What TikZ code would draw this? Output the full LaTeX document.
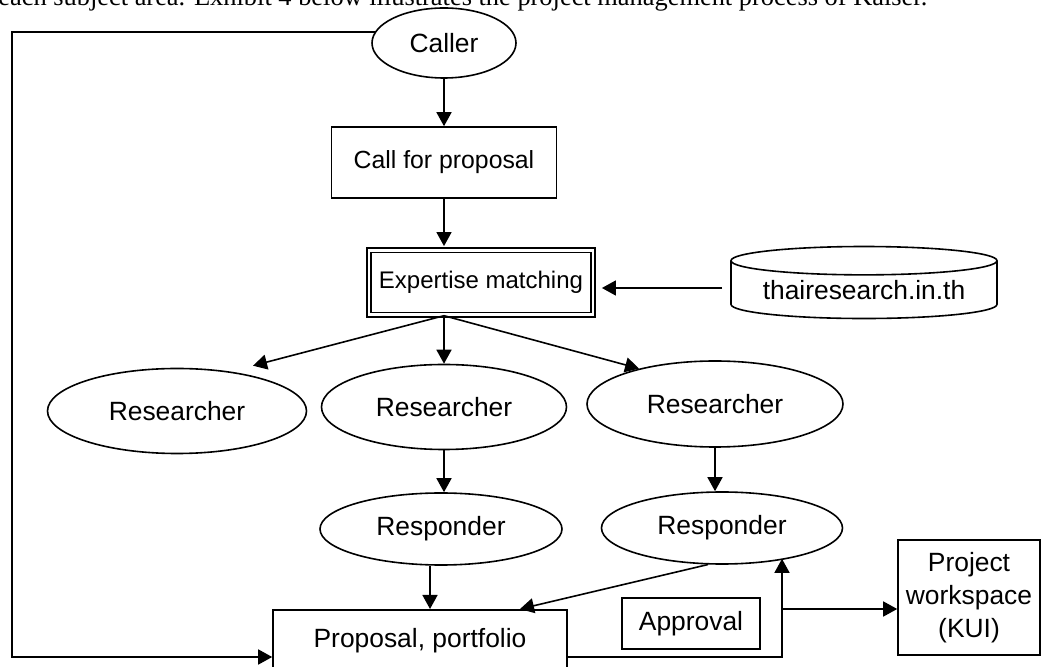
\documentclass[tikz,border=0pt]{standalone}
\usepackage{fontspec}
\setmainfont{Liberation Sans}
\newfontfamily\bodyserif{Liberation Serif}
\usetikzlibrary{shapes.geometric,arrows.meta}

\begin{document}
\begin{tikzpicture}[x=0.5pt,y=-0.5pt,
  every node/.style={font=\fontsize{13.2}{16.5}\selectfont, inner sep=0pt},
  oval/.style={ellipse, draw, line width=0.8pt},
  proc/.style={rectangle, draw, line width=0.8pt},
  dblproc/.style={rectangle, draw, double, line width=0.9pt, double distance=1.4pt},
  store/.style={cylinder, shape border rotate=90, draw, line width=0.8pt, aspect=0.14},
  flow/.style={-{Triangle[length=7pt,width=7.5pt]}, line width=0.8pt}]
  \useasboundingbox (0,0) rectangle (1055,667);

  %Define nodes
  \node[anchor=base west, font=\bodyserif\fontsize{13.2}{16}\selectfont] (intro) at (-2,6)
    {each subject area. Exhibit 4 below illustrates the project management process of Kaiser.};
  \node[oval, minimum width=72pt, minimum height=35pt]           (caller) at (444,43) {Caller};
  \node[proc, minimum width=112.5pt, minimum height=35.5pt, font=\fontsize{12.4}{15}\selectfont]
                                                                 (call) at (444,162.5) {Call for proposal};
  \node[dblproc, minimum width=112pt, minimum height=32.3pt, font=\fontsize{12}{14}\selectfont]
                                                                 (exp) at (481,282.5) {Expertise matching};
  \node[store, minimum width=133pt, minimum height=36pt]         (thai) at (864,290) {thairesearch.in.th};
  \node[oval, minimum width=129.5pt, minimum height=42.5pt]      (r1) at (177,411) {Researcher};
  \node[oval, minimum width=122.5pt, minimum height=42.5pt]      (r2) at (444,407) {Researcher};
  \node[oval, minimum width=128pt, minimum height=43pt]          (r3) at (715,404) {Researcher};
  \node[oval, minimum width=121pt, minimum height=36pt]          (resp1) at (441,529) {Responder};
  \node[oval, minimum width=120.5pt, minimum height=36pt]        (resp2) at (722,528) {Responder};
  \node[proc, anchor=north, minimum width=147pt, text height=9.5pt, text depth=4pt, inner ysep=9.25pt]
                                                                 (prop) at (420,609) {Proposal, portfolio};
  \node[proc, minimum width=69pt, minimum height=25.5pt]         (appr) at (691,623.5) {Approval};
  \node[proc, minimum width=71pt, minimum height=57.5pt, align=center]
                                                                 (proj) at (969,597.5) {Project\\workspace\\(KUI)};

  \coordinate (br) at (call.south |- exp.south);
  \coordinate (lft) at (12,657);
  \coordinate (bend) at (782,657);

  % Connect the nodes
  \draw[flow] (caller.south) -- (call.north);
  \draw[flow, shorten >=1.6pt] (call.south) -- (call.south |- exp.north);
  \draw[flow, shorten <=4pt, shorten >=4pt] ([yshift=1pt]thai.west) -- ([yshift=1pt]thai.west -| exp.east);
  \draw[line width=0.8pt] ([yshift=-1.6pt]br) -- (br);
  \draw[flow] (br) -- ([xshift=38pt,yshift=1pt]r1.north);
  \draw[flow] (br) -- (r2.north);
  \draw[flow] (br) -- (r3.155);
  \draw[flow] (r2.south) -- (r2.south |- resp1.north);
  \draw[flow] (r3.south) -- (r3.south |- resp2.north);
  \draw[flow] ([xshift=-5.5pt]resp1.south) -- ([xshift=-5.5pt]resp1.south |- prop.north);
  \draw[flow] (resp2.249) -- ([xshift=50pt]prop.north);
  \draw[flow] (caller.171) -| (lft) -- (lft -| prop.west);
  \draw[flow] (prop.east |- bend) -- (bend) -- (bend |- resp2.-25);
  \draw[flow] (bend |- prop.north) -- (proj.west |- prop.north);

\end{tikzpicture}
\end{document}
